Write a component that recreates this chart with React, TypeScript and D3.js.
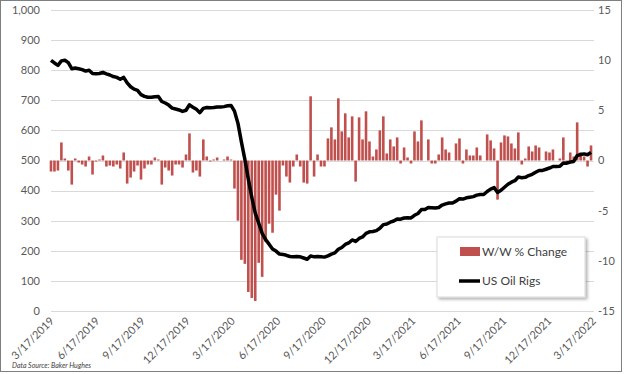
import { useEffect, useRef } from 'react';
import * as d3 from 'd3';

// weekly Baker Hughes US oil rig counts, week 1 = 3/17/2019
const startDate = new Date(2019, 2, 17);
const axisStart = new Date(2019, 2, 17);
const axisEnd = new Date(2022, 2, 17);

const rigs2019 = [833, 824, 816, 831, 833, 825, 805, 807, 805, 802, 797, 800, 789, 788, 789, 793, 788, 784, 779, 776, 770, 776, 758, 745, 737, 733, 719, 713, 710, 710, 712, 713, 696, 691, 684, 674, 671, 668, 663, 667, 685, 677];
const rigs2020 = [670, 659, 673, 676, 675, 676, 678, 678, 679, 682, 683, 664, 624, 562, 504, 438, 378, 325, 292, 258, 237, 222, 206, 199, 189, 188, 185, 181, 180, 181, 180, 176, 172, 183, 180, 181, 180, 179, 183, 189, 193, 205, 211, 221, 226, 236, 231, 241, 246, 258, 263, 264, 267];
const rigs2021 = [275, 287, 289, 295, 299, 306, 305, 309, 310, 309, 318, 324, 337, 337, 344, 343, 342, 344, 352, 356, 359, 359, 365, 373, 372, 376, 378, 380, 385, 387, 387, 397, 405, 410, 394, 401, 411, 421, 428, 433, 445, 443, 444, 450, 454, 461, 467, 467, 471, 475, 480, 480];
const rigs2022 = [481, 492, 491, 495, 497, 516, 520, 522, 519, 527];

const chg2019 = [-1.1, -1.1, -1.0, 1.8, 0.2, -1.0, -2.4, 0.2, -0.2, -0.4, -0.6, 0.4, -1.4, -0.1, 0.1, 0.5, -0.6, -0.5, -0.6, -0.4, -0.8, 0.8, -2.3, -1.7, -1.1, -0.5, -1.9, -0.8, -0.4, -0.4, 0.3, 0.1, -2.4, -0.7, -1.0, -1.5, -0.4, -0.4, -0.7, 0.6, 2.7, -1.2];
const chg2020 = [-1.0, -1.6, 2.1, 0.4, -0.1, 0.1, 0.3, 0, 0.1, 0.4, 0.1, -2.8, -6.0, -9.9, -10.3, -13.1, -13.7, -14.0, -10.2, -11.6, -8.1, -6.3, -7.2, -3.4, -5.0, -0.5, -1.6, -2.2, -0.6, 0.6, -0.6, -2.2, -2.3, 6.4, -1.6, 0.6, -0.6, -0.6, 2.2, 3.3, 2.1, 6.2, 2.9, 4.7, 2.3, 4.4, -2.1, 4.3, 2.1, 4.9, 1.9, 0.4, 1.1];
const chg2021 = [3.0, 4.4, 0.7, 2.1, 1.4, 2.3, -0.3, 1.3, 0.3, -0.3, 2.9, 1.9, 4.0, 0, 2.1, -0.3, -0.3, 0.6, 2.3, 1.1, 0.8, 0, 1.7, 2.2, -0.3, 1.1, 0.5, 0.5, 1.3, 0.5, 0, 2.6, 2.0, 1.2, -3.9, 1.8, 2.5, 2.4, 1.7, 1.2, 2.8, -0.4, 0.2, 1.4, 0.9, 1.5, 1.3, 0, 0.9, 0.8, 1.1, 0];
const chg2022 = [0.2, 2.3, -0.2, 0.8, 0.4, 3.8, 0.8, 0.4, -0.6, 1.5];

const leftTicks = [0, 100, 200, 300, 400, 500, 600, 700, 800, 900, 1000];
const rightTicks = [-15, -10, -5, 0, 5, 10, 15];

const rigs = [...rigs2019, ...rigs2020, ...rigs2021, ...rigs2022];
const changes = [...chg2019, ...chg2020, ...chg2021, ...chg2022];

const FONT = 'Lato, "Open Sans", sans-serif';

const App = () => {
  const ref = useRef<SVGSVGElement>(null);

  useEffect(() => {
    const svg = d3.select(ref.current);
    svg.selectAll('*').remove();

    const weeks = rigs.map((_, i) => d3.timeDay.offset(startDate, 7 * i));
    const data = weeks.map((d, i) => ({ date: d, rigs: rigs[i], chg: changes[i] }));

    const x = d3.scaleTime().domain([axisStart, axisEnd]).range([51, 593]);
    const yL = d3.scaleLinear().domain([0, 1000]).range([311, 10]);
    const yR = d3.scaleLinear().domain([-15, 15]).range([311, 10]);

    const defs = svg.append('defs');
    const f = defs.append('filter').attr('id', 'shadow').attr('x', '-10%').attr('y', '-10%').attr('width', '130%').attr('height', '140%');
    f.append('feDropShadow').attr('dx', 2).attr('dy', 2).attr('stdDeviation', 1.5).attr('flood-color', '#000').attr('flood-opacity', 0.3);

    svg.append('rect').attr('width', 624).attr('height', 374).attr('fill', '#fff');
    svg.append('rect')
      .attr('x', 0.5).attr('y', 0.5).attr('width', 621).attr('height', 371)
      .attr('fill', 'none').attr('stroke', '#7f7f7f');

    // gridlines
    svg.append('g').selectAll('line').data(leftTicks).join('line')
      .attr('x1', 51).attr('x2', 594)
      .attr('y1', d => Math.round(yL(d)) + 0.5).attr('y2', d => Math.round(yL(d)) + 0.5)
      .attr('stroke', '#d9d9d9');

    // left axis labels
    svg.append('g').selectAll('text').data(leftTicks).join('text')
      .attr('x', 40).attr('y', d => yL(d)).attr('dy', '0.35em')
      .attr('text-anchor', 'end').attr('font-family', FONT).attr('font-size', 11)
      .attr('fill', '#595959').text(d => d3.format(',')(d));

    // right axis labels
    svg.append('g').selectAll('text').data(rightTicks).join('text')
      .attr('x', 598).attr('y', d => yR(d)).attr('dy', '0.35em')
      .attr('text-anchor', 'start').attr('font-family', FONT).attr('font-size', 11)
      .attr('fill', '#595959').text(d => String(d));

    // x labels
    const xTicks = d3.range(13).map(i => d3.timeMonth.offset(axisStart, 3 * i));
    const fmt = d3.timeFormat('%-m/%-d/%Y');
    svg.append('g').selectAll('text').data(xTicks).join('text')
      .attr('transform', d => `translate(${x(d) + 1},${319}) rotate(-45)`)
      .attr('dy', '0.35em')
      .attr('text-anchor', 'end').attr('font-family', FONT).attr('font-size', 11)
      .attr('fill', '#595959').text(d => fmt(d));

    // bars
    const bw = 2.6;
    svg.append('g').selectAll('rect').data(data).join('rect')
      .attr('x', d => x(d.date) - bw / 2)
      .attr('y', d => Math.min(yR(0), yR(d.chg)))
      .attr('width', bw)
      .attr('height', d => Math.abs(yR(d.chg) - yR(0)))
      .attr('fill', '#c0504d');

    // rig count line
    const line = d3.line<any>().x(d => x(d.date)).y(d => yL(d.rigs));
    svg.append('path').datum(data)
      .attr('fill', 'none').attr('stroke', '#000').attr('stroke-width', 3.5)
      .attr('stroke-linejoin', 'round').attr('d', line);

    // legend
    const lg = svg.append('g');
    lg.append('rect').attr('x', 437).attr('y', 237).attr('width', 148).attr('height', 60)
      .attr('fill', '#fff').attr('stroke', '#d9d9d9').attr('filter', 'url(#shadow)');
    lg.append('rect').attr('x', 460).attr('y', 247).attr('width', 20).attr('height', 9).attr('fill', '#c0504d');
    lg.append('text').attr('x', 482).attr('y', 256).attr('font-family', FONT).attr('font-size', 12)
      .attr('fill', '#404040').text('W/W % Change');
    lg.append('line').attr('x1', 459).attr('x2', 480).attr('y1', 281).attr('y2', 281)
      .attr('stroke', '#000').attr('stroke-width', 3.5);
    lg.append('text').attr('x', 482).attr('y', 285).attr('font-family', FONT).attr('font-size', 12)
      .attr('fill', '#404040').text('US Oil Rigs');

    svg.append('text').attr('x', 12).attr('y', 368).attr('font-family', FONT).attr('font-size', 7)
      .attr('font-style', 'italic').attr('fill', '#404040').text('Data Source: Baker Hughes');
  }, []);

  return (
    <svg ref={ref} width={624} height={374} style={{ position: 'absolute', left: 0, top: 0 }} />
  );
};

export default App;
